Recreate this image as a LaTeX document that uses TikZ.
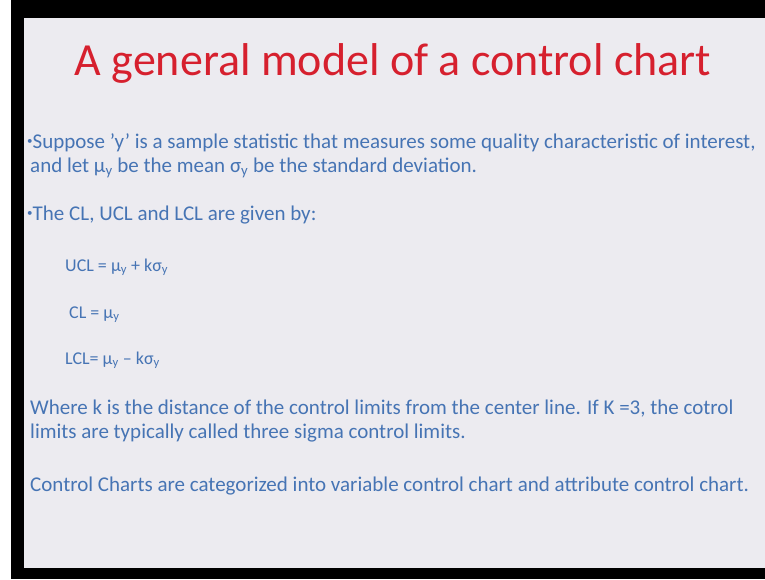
\documentclass[tikz,border=0pt]{standalone}
\usepackage{fontspec}
\setmainfont{Carlito}
\usepackage{xcolor}
\usetikzlibrary{positioning}
\definecolor{slidebg}{RGB}{236,235,240}
\definecolor{titlered}{RGB}{214,32,46}
\definecolor{textblue}{RGB}{70,116,180}
\newcommand{\sub}[1]{\textsubscript{#1}}
\newcommand{\dotbullet}{\raisebox{0.15em}{\fontsize{11}{11}\selectfont •}}

\begin{document}
\begin{tikzpicture}[x=1pt,y=-1pt,
  title/.style={anchor=base,text=titlered,font=\fontsize{46}{54}\selectfont,inner sep=0pt},
  line/.style={anchor=base west,text=textblue,font=\fontsize{21}{25}\selectfont,inner sep=0pt},
  eqn/.style={line,font=\fontsize{18}{22}\selectfont}]
\useasboundingbox (0,0) rectangle (765,579);
% frame and slide
\fill[black] (11,0) rectangle (765,579);
\fill[slidebg] (24,18) rectangle (765,568);
% title
\node[title] (T) at (393,75) {A general model of a control chart};
% body text
\node[line] (L1) at (27,148) {\dotbullet Suppose 'y' is a sample statistic that measures some quality characteristic of interest,};
\node[line] (L2) at (30,172) {and let μ\sub{y} be the mean σ\sub{y} be the standard deviation.};
\node[line] (L3) at (27,220) {\dotbullet The CL, UCL and LCL are given by:};
\node[eqn] (UCL) at (65,271) {UCL = μ\sub{y} + kσ\sub{y}};
\node[eqn] (CL) at (69,318) {CL = μ\sub{y}};
\node[eqn] (LCL) at (65,364) {LCL= μ\sub{y} – kσ\sub{y}};
\node[line] (W1) at (30,414) {Where k is the distance of the control limits from the center line. If K =3, the cotrol};
\node[line] (W2) at (30,438) {limits are typically called three sigma control limits.};
\node[line] (C1) at (30,491) {Control Charts are categorized into variable control chart and attribute control chart.};
\end{tikzpicture}
\end{document}
